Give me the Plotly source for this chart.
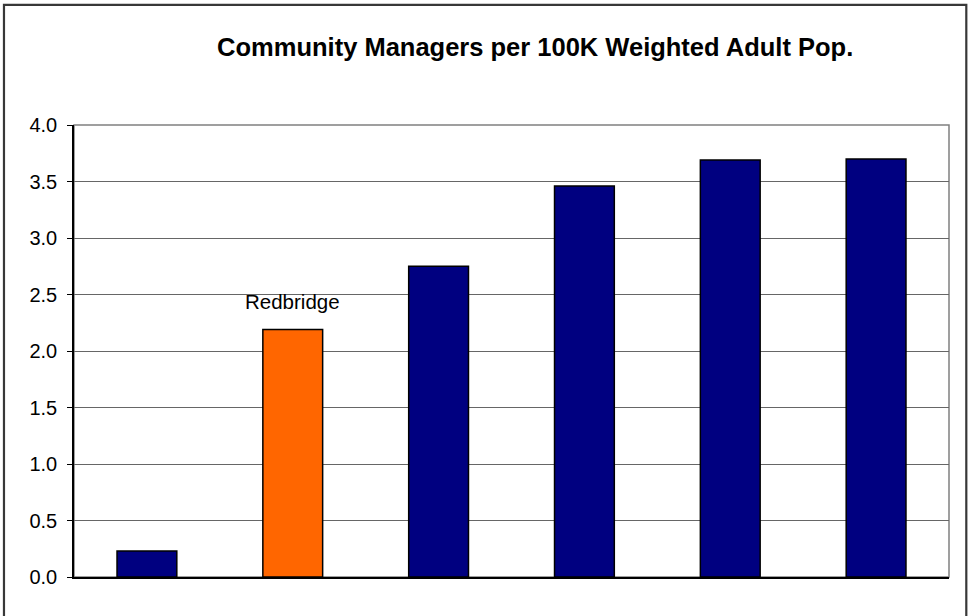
import plotly.graph_objects as go

# Community managers per 100K weighted adult population, by authority
positions = [1, 2, 3, 4, 5, 6]
labels = ["", "Redbridge", "", "", "", ""]
values = [0.23, 2.19, 2.75, 3.46, 3.69, 3.70]
highlight = "Redbridge"

navy = "#000080"
orange = "#FF6600"
colors = [orange if lab == highlight else navy for lab in labels]

y_ticks = [0.0, 0.5, 1.0, 1.5, 2.0, 2.5, 3.0, 3.5, 4.0]

fig = go.Figure()
fig.add_trace(go.Bar(
    x=positions,
    y=values,
    width=0.41,
    marker=dict(color=colors, line=dict(color="black", width=1.5)),
    hoverinfo="y",
    showlegend=False,
))

# label above the highlighted bar
for p, v, lab in zip(positions, values, labels):
    if lab:
        fig.add_annotation(
            x=p, y=v, text=lab, showarrow=False,
            yanchor="bottom", yshift=15,
            font=dict(family="Liberation Sans, Arial, sans-serif", size=20.5, color="black"),
        )

W, H = 969, 616
L, R, T, B = 74, 20.3, 125, 39.3
pw, ph = W - L - R, H - T - B

def px_x(v):
    return (v - L) / pw

def px_y(v):
    return (H - B - v) / ph

# plot-area frame (grey) and outer chart frame
fig.add_shape(type="rect", xref="paper", yref="paper", x0=0, x1=1, y0=0, y1=1,
              line=dict(color="#808080", width=1.5), layer="below")
fig.add_shape(type="rect", xref="paper", yref="paper",
              x0=px_x(4), x1=px_x(966), y0=px_y(640), y1=px_y(5),
              line=dict(color="#383838", width=2.2))

fig.update_layout(
    width=W, height=H,
    margin=dict(l=L, r=R, t=T, b=B),
    paper_bgcolor="white",
    plot_bgcolor="white",
    bargap=0.59,
    font=dict(family="Liberation Sans, Arial, sans-serif", color="black"),
    title=dict(
        text="<b>Community Managers per 100K Weighted Adult Pop.</b>",
        x=px_x(535), xanchor="center", xref="paper",
        y=1 - 47 / H, yanchor="middle",
        font=dict(size=25.5, color="black"),
    ),
)

fig.update_xaxes(
    range=[0.5, 6.5],
    showticklabels=False,
    showgrid=False,
    zeroline=False,
    showline=True, linecolor="black", linewidth=1.5,
    ticks="",
    fixedrange=True,
)

fig.update_yaxes(
    range=[0, 4],
    tickvals=y_ticks,
    ticktext=[f"{t:.1f}" for t in y_ticks],
    tickfont=dict(size=20, color="black"),
    showgrid=True, gridcolor="#666666", gridwidth=1.2,
    zeroline=False,
    showline=True, linecolor="black", linewidth=1.5,
    ticks="outside", ticklen=5, tickcolor="black", tickwidth=1.2,
    ticklabelstandoff=6,
    fixedrange=True,
)

fig.write_html("out.html")
